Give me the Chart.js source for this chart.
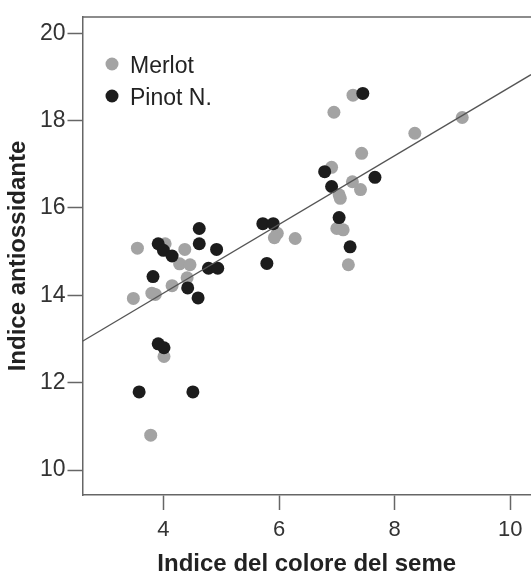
<!DOCTYPE html>
<html>
<head>
<meta charset="utf-8">
<script src="https://cdn.jsdelivr.net/npm/chart.js@4"></script>
<style>
  html, body { margin: 0; padding: 0; background: #fff; }
  #wrap { width: 531px; height: 581px; }
</style>
</head>
<body>
<div id="wrap"><canvas id="chart"></canvas></div>
<script>
// valori
const merlotX = [3.55, 4.03, 4.37, 4.28, 4.46, 4.41, 4.15, 3.80, 3.86, 3.48, 4.01, 3.78,
                 5.97, 5.92, 6.28, 7.28, 6.95, 9.17, 8.35, 7.43, 6.91, 7.27, 7.41, 7.04,
                 7.06, 7.00, 7.11, 7.20];
const merlotY = [15.08, 15.18, 15.05, 14.72, 14.70, 14.40, 14.22, 14.05, 14.02, 13.93, 12.60, 10.80,
                 15.42, 15.32, 15.30, 18.58, 18.19, 18.07, 17.71, 17.25, 16.93, 16.60, 16.42, 16.30,
                 16.22, 15.53, 15.50, 14.70];

const pinotX = [3.91, 4.00, 4.15, 4.62, 4.62, 4.92, 4.78, 4.94, 3.82, 4.42, 4.60, 5.79,
                3.91, 4.01, 3.58, 4.51, 5.72, 5.90, 7.45, 6.79, 7.66, 6.91, 7.04, 7.23];
const pinotY = [15.18, 15.03, 14.90, 15.53, 15.18, 15.05, 14.62, 14.62, 14.43, 14.17, 13.94, 14.73,
                12.89, 12.80, 11.79, 11.79, 15.64, 15.64, 18.62, 16.83, 16.70, 16.49, 15.78, 15.11];

// retta di regressione (estremi)
const fitX = [2.60, 10.36];
const fitY = [12.95, 19.05];

const xTicks = [4, 6, 8, 10];
const yTicks = [10, 12, 14, 16, 18, 20];

const seriesNames = ['Merlot', 'Pinot N.'];
const seriesColors = ['#a3a3a3', '#1c1c1c'];

const FONT = "'Liberation Sans', Arial, sans-serif";
const AXIS = '#666';

function toPoints(xs, ys) {
    return xs.map((x, i) => ({ x: x, y: ys[i] }));
}

// legenda e bordo superiore
const framePlugin = {
    id: 'frame',
    afterDatasetsDraw(chart) {
        const { ctx, chartArea } = chart;
        ctx.save();
        ctx.strokeStyle = AXIS;
        ctx.lineWidth = 1.5;
        ctx.beginPath();
        ctx.moveTo(chartArea.left, chartArea.top);
        ctx.lineTo(chartArea.right, chartArea.top);
        ctx.stroke();

        const rows = [64, 96];
        seriesNames.forEach((name, i) => {
            ctx.fillStyle = seriesColors[i];
            ctx.beginPath();
            ctx.arc(112, rows[i], 6.5, 0, Math.PI * 2);
            ctx.fill();
            ctx.fillStyle = '#222';
            ctx.font = '23px ' + FONT;
            ctx.textBaseline = 'middle';
            ctx.textAlign = 'left';
            ctx.fillText(name, 130, rows[i] + 3);
        });
        ctx.restore();
    }
};

new Chart(document.getElementById('chart'), {
    type: 'scatter',
    data: {
        datasets: [
            {
                type: 'line',
                label: 'fit',
                data: toPoints(fitX, fitY),
                borderColor: '#555',
                borderWidth: 1.3,
                pointRadius: 0,
                fill: false,
                order: 0
            },
            {
                label: seriesNames[1],
                data: toPoints(pinotX, pinotY),
                backgroundColor: seriesColors[1],
                borderWidth: 0,
                pointRadius: 6.5,
                order: 1
            },
            {
                label: seriesNames[0],
                data: toPoints(merlotX, merlotY),
                backgroundColor: seriesColors[0],
                borderWidth: 0,
                pointRadius: 6.5,
                order: 2
            }
        ]
    },
    options: {
        responsive: true,
        maintainAspectRatio: false,
        animation: false,
        layout: { autoPadding: false, padding: { top: 17, right: 0, left: 0, bottom: 0 } },
        plugins: {
            legend: { display: false },
            tooltip: { enabled: false }
        },
        scales: {
            x: {
                type: 'linear',
                min: 2.60,
                max: 10.36,
                afterBuildTicks: (scale) => { scale.ticks = xTicks.map(v => ({ value: v })); },
                afterFit: (scale) => {
                    scale.height = 86;
                    scale.paddingLeft = 0;
                    scale.paddingRight = 0;
                },
                grid: { drawOnChartArea: false, tickLength: 15, tickColor: AXIS, tickWidth: 1.5 },
                border: { color: AXIS, width: 1.5 },
                ticks: {
                    color: '#333',
                    padding: 7,
                    maxRotation: 0,
                    font: { family: FONT, size: 22 }
                },
                title: {
                    display: true,
                    text: 'Indice del colore del seme',
                    color: '#222',
                    padding: { top: 0, bottom: 2 },
                    font: { family: FONT, size: 24, weight: 'bold' }
                }
            },
            y: {
                type: 'linear',
                min: 9.43,
                max: 20.37,
                afterBuildTicks: (scale) => { scale.ticks = yTicks.map(v => ({ value: v })); },
                afterFit: (scale) => {
                    scale.width = 82.5;
                    scale.paddingTop = 0;
                    scale.paddingBottom = 0;
                },
                grid: { drawOnChartArea: false, tickLength: 15, tickColor: AXIS, tickWidth: 1.5 },
                border: { color: AXIS, width: 1.5 },
                ticks: {
                    color: '#333',
                    padding: 2,
                    font: { family: FONT, size: 23 }
                },
                title: {
                    display: true,
                    text: 'Indice antiossidante',
                    color: '#222',
                    padding: { top: 4, bottom: 0 },
                    font: { family: FONT, size: 24, weight: 'bold' }
                }
            }
        }
    },
    plugins: [framePlugin]
});
</script>
</body>
</html>
